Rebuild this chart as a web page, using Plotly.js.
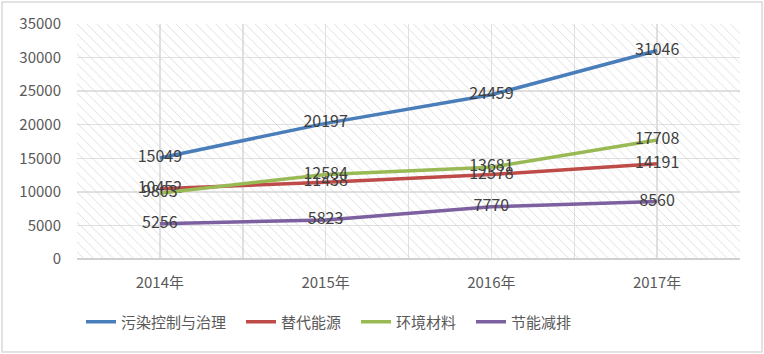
<!DOCTYPE html>
<html><head><meta charset="utf-8">
<script src="https://cdn.plot.ly/plotly-3.0.1.min.js"></script>
<style>html,body{margin:0;padding:0;background:#fff}#c{width:764px;height:354px}</style>
</head><body><div id="c"></div>
<script>
const years = ['2014年','2015年','2016年','2017年'];
const seriesNames = ['污染控制与治理','替代能源','环境材料','节能减排'];
const pollution = [15049, 20197, 24459, 31046];
const altEnergy = [10452, 11438, 12578, 14191];
const envMaterials = [9803, 12584, 13681, 17708];
const energySaving = [5256, 5823, 7770, 8560];
const colors = ['#4A7EBB','#BE4B48','#98B954','#7D60A0'];
const yMax = 35000;

const xIdx = years.map((_, i) => i);
const xLo = -0.5, xHi = years.length - 0.5;
const font = '"Noto Sans CJK SC", "Noto Sans", sans-serif';
const legendKeys = ['legend', 'legend2', 'legend3', 'legend4'];
const legendPx = [81, 241, 356, 471];

const bg = {
  x: [xLo, xHi, xHi, xLo, xLo], y: [0, 0, yMax, yMax, 0],
  mode: 'lines', line: {width: 0}, fill: 'toself', fillcolor: 'rgba(0,0,0,0)',
  fillpattern: {shape: '\\', fgcolor: '#d2d2d2', bgcolor: 'rgba(255,255,255,0)', size: 7, solidity: 0.1},
  hoverinfo: 'skip', showlegend: false
};

const data = [bg];
[pollution, altEnergy, envMaterials, energySaving].forEach((vals, k) => {
  data.push({
    x: xIdx, y: vals, name: seriesNames[k], mode: 'lines+text',
    text: vals.map(String), textposition: 'middle center',
    textfont: {family: font, size: 16, color: '#404040'},
    line: {color: colors[k], width: 3.5},
    legend: legendKeys[k]
  });
});

const layout = {
  width: 764, height: 354,
  margin: {l: 77, r: 24, t: 24, b: 95, autoexpand: false},
  paper_bgcolor: '#fff', plot_bgcolor: '#fff',
  font: {family: font, size: 15, color: '#595959'},
  xaxis: {
    range: [xLo, xHi], tickmode: 'array', tickvals: xIdx, ticktext: years,
    showgrid: true, gridcolor: '#e0e0e0', gridwidth: 1.5, zeroline: false,
    showline: false, ticks: 'outside', ticklen: 10, tickcolor: 'rgba(0,0,0,0)',
    minor: {tickmode: 'linear', tick0: xLo, dtick: 1, showgrid: true, gridcolor: '#e0e0e0', gridwidth: 1.5},
    tickfont: {size: 15, color: '#595959'}, fixedrange: true
  },
  yaxis: {
    range: [0, yMax], dtick: 5000, tick0: 0, tickformat: 'd', showgrid: true, gridcolor: '#e0e0e0', gridwidth: 1.5,
    zeroline: true, zerolinecolor: '#d0d0d0', zerolinewidth: 2, showline: false,
    ticks: '', ticklabelstandoff: 15,
    tickfont: {size: 15, color: '#595959'}, fixedrange: true
  },
  showlegend: true,
  shapes: [
    {type: 'rect', xref: 'paper', yref: 'paper',
     x0: -75/663, x1: 1 + 22/663, y0: -93/235, y1: 1 + 22/235,
     line: {color: '#d9d9d9', width: 1.5}, fillcolor: 'rgba(0,0,0,0)', layer: 'below'}
  ]
};
legendKeys.forEach((key, k) => {
  layout[key] = {orientation: 'h', x: (legendPx[k] - 77) / 663, xanchor: 'left', y: -63/235, yanchor: 'middle',
    font: {size: 15, color: '#595959'}, itemwidth: 30, bgcolor: 'rgba(0,0,0,0)'};
});

Plotly.newPlot('c', data, layout, {displayModeBar: false, staticPlot: true});
</script>
</body></html>
